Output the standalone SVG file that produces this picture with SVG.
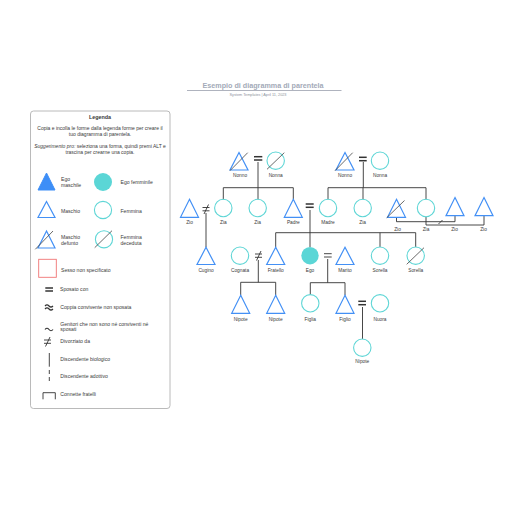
<svg xmlns="http://www.w3.org/2000/svg" width="516" height="516" viewBox="0 0 516 516">
<style>
text{font-family:"Liberation Sans",Arial,sans-serif;fill:#3a3a3a}
.lbl{font-size:4.8px;text-anchor:middle}
.leg{font-size:5.1px}
.legc{font-size:5px;text-anchor:middle}
.m{fill:none;stroke:#4390f5;stroke-width:1.2;stroke-linejoin:miter}
.f{fill:none;stroke:#5fd6d6;stroke-width:1.1}
.d{stroke:#444;stroke-width:0.8}
.c{fill:none;stroke:#333;stroke-width:0.9}
.eq{stroke:#333;stroke-width:1.5}
</style>
<rect width="516" height="516" fill="#fff"/>
<g id="title">
<text x="263" y="88" style="font-size:7.2px;font-weight:bold;fill:#a3aab8;text-anchor:middle">Esempio di diagramma di parentela</text>
<line x1="187" y1="90.5" x2="341.5" y2="90.5" stroke="#9aa0ad" stroke-width="0.8"/>
<text x="258" y="96" style="font-size:3.8px;fill:#8d939e;text-anchor:middle">System Templates  |  April 11, 2023</text>
</g>
<g id="legend">
<rect x="30.5" y="111" width="139.5" height="297.5" rx="3" fill="#fff" stroke="#a8a8a8" stroke-width="0.8"/>
<text x="100" y="118.5" style="font-size:5.4px;font-weight:bold;text-anchor:middle">Legenda</text>
<text x="100" y="130" class="legc">Copia e incolla le forme dalla legenda forme per creare il</text>
<text x="100" y="136" class="legc">tuo diagramma di parentela.</text>
<text x="100" y="148" class="legc"><tspan font-style="italic">Suggerimento pro:</tspan> seleziona una forma, quindi premi ALT e</text>
<text x="100" y="154" class="legc">trascina per crearne una copia.</text>
<path d="M46.5,173 L55,190 L38,190 Z" fill="#3d8ef7" stroke="#3d8ef7" stroke-width="1"/>
<text x="61" y="180.5" class="leg">Ego</text><text x="61" y="187" class="leg">maschile</text>
<circle cx="103" cy="182" r="9" fill="#5bd6d6"/>
<text x="120.5" y="183.5" class="leg">Ego femminile</text>
<path d="M46.5,201.5 L55,217.5 L38,217.5 Z" class="m"/>
<text x="61" y="212.5" class="leg">Maschio</text>
<circle cx="103" cy="210" r="8.6" class="f"/>
<text x="120.5" y="212.5" class="leg">Femmina</text>
<path d="M46.5,231 L55,248 L38,248 Z" class="m"/>
<line x1="35.3" y1="249.3" x2="53" y2="231" class="d"/>
<text x="61" y="238.5" class="leg">Maschio</text><text x="61" y="245" class="leg">defunto</text>
<circle cx="104" cy="239.3" r="8.6" class="f"/>
<line x1="94.7" y1="247.7" x2="112" y2="230.7" class="d"/>
<text x="120.5" y="238.5" class="leg">Femmina</text><text x="120.5" y="245" class="leg">deceduta</text>
<rect x="38.7" y="259.3" width="17.6" height="18" fill="none" stroke="#f07474" stroke-width="0.9"/>
<text x="61" y="271.5" class="leg">Sesso non specificato</text>
<line x1="45.3" y1="288" x2="53" y2="288" class="eq"/><line x1="45.3" y1="291" x2="53" y2="291" class="eq"/>
<text x="60" y="291" class="leg">Sposato con</text>
<path d="M45,306 q2,-2 4,0 t4,0 M45,309 q2,-2 4,0 t4,0" fill="none" stroke="#333" stroke-width="1.2"/>
<text x="60.3" y="309" class="leg">Coppia convivente non sposata</text>
<path d="M45,329.5 q2,-2.5 4,0 t4,0" fill="none" stroke="#333" stroke-width="1.2"/>
<text x="60.3" y="325.5" class="leg">Genitori che non sono né conviventi né</text>
<text x="60.3" y="331.3" class="leg">sposati</text>
<line x1="44" y1="340" x2="51" y2="340" class="c"/><line x1="44" y1="343.3" x2="51" y2="343.3" class="c"/>
<line x1="45.5" y1="346.5" x2="50" y2="337" class="c"/>
<text x="60.3" y="343.3" class="leg">Divorziato da</text>
<line x1="49.3" y1="353" x2="49.3" y2="366.7" class="c"/>
<text x="60.3" y="361" class="leg">Discendente biologico</text>
<line x1="49.3" y1="370" x2="49.3" y2="382.7" class="c" stroke-dasharray="4,3"/>
<text x="60.3" y="378" class="leg">Discendente adottivo</text>
<path d="M43,399.3 V392.7 H55.3 V399.3" class="c"/>
<text x="60.3" y="396.3" class="leg">Connette fratelli</text>
</g>
<g id="connectors">
<line x1="254" y1="156.7" x2="262.3" y2="156.7" class="eq"/><line x1="254" y1="160" x2="262.3" y2="160" class="eq"/>
<line x1="359" y1="157.3" x2="366.7" y2="157.3" class="eq"/><line x1="359" y1="160.7" x2="366.7" y2="160.7" class="eq"/>
<line x1="305.7" y1="204" x2="313.7" y2="204" class="eq"/><line x1="305.7" y1="207.3" x2="313.7" y2="207.3" class="eq"/>
<line x1="324" y1="253.7" x2="331.7" y2="253.7" class="c"/><line x1="324" y1="257" x2="331.7" y2="257" class="c"/>
<line x1="358.3" y1="301.3" x2="366" y2="301.3" class="eq"/><line x1="358.3" y1="304.7" x2="366" y2="304.7" class="eq"/>
<line x1="202.5" y1="207.5" x2="209.5" y2="207.5" class="c"/><line x1="202.5" y1="210.8" x2="209.5" y2="210.8" class="c"/>
<line x1="204" y1="214" x2="208.5" y2="204.5" class="c"/>
<line x1="255" y1="254" x2="262" y2="254" class="c"/><line x1="255" y1="257.3" x2="262" y2="257.3" class="c"/>
<line x1="256.5" y1="260.5" x2="261" y2="251" class="c"/>
<path d="M258,162 V187.7 M223.3,199.3 V187.7 H293.3 V199.3 M258,187.7 V199.3" class="c"/>
<path d="M363.3,162 V187.7 M328,199.3 V187.7 H426 V199.3 M363,187.7 V199.3" class="c"/>
<path d="M206,213 V247.3" class="c"/>
<path d="M310,210 V247" class="c"/>
<path d="M275.7,247.3 V232.7 H415.7 V247 M380,232.7 V247" class="c"/>
<path d="M396.5,217.3 V221.7 H455 V215.7" class="c"/>
<path d="M426,216.7 V225 H484 V215.7" class="c"/>
<line x1="438.5" y1="224" x2="442.5" y2="220" class="c" stroke-width="0.7"/>
<path d="M258.3,260 V282.3 M240.7,295.3 V282.3 H275.7 V295.3" class="c"/>
<path d="M327.7,259 V282.7 M310.3,294.6 V282.7 H345 V295.3" class="c"/>
<path d="M362.5,307 V339" class="c"/>
</g>
<g id="nonno-p"><path d="M239,152.5 L248,170 L230,170 Z" class="m"/><line x1="230" y1="170.7" x2="247.7" y2="152.7" class="d"/><text x="240" y="177" class="lbl">Nonno</text></g>
<g id="nonna-p"><circle cx="275.7" cy="160.7" r="8.7" class="f"/><line x1="267" y1="169.3" x2="284.3" y2="152.7" class="d"/><text x="275.7" y="177" class="lbl">Nonna</text></g>
<g id="nonno-m"><path d="M345,152.5 L354,170 L336,170 Z" class="m"/><line x1="335" y1="170.7" x2="352.7" y2="152.7" class="d"/><text x="345" y="177" class="lbl">Nonno</text></g>
<g id="nonna-m"><circle cx="380" cy="160.7" r="8.7" class="f"/><text x="380" y="177" class="lbl">Nonna</text></g>
<g id="zio1"><path d="M189.5,199.3 L198.5,217.3 L180.5,217.3 Z" class="m"/><text x="189.5" y="224" class="lbl">Zio</text></g>
<g id="zia1"><circle cx="223.3" cy="208" r="8.7" class="f"/><text x="223.3" y="224" class="lbl">Zia</text></g>
<g id="zia2"><circle cx="257.7" cy="208" r="8.7" class="f"/><text x="257.7" y="224" class="lbl">Zia</text></g>
<g id="padre"><path d="M293.3,199.3 L302.3,217.3 L284.3,217.3 Z" class="m"/><text x="293.3" y="224" class="lbl">Padre</text></g>
<g id="madre"><circle cx="328" cy="208" r="8.7" class="f"/><text x="328" y="224" class="lbl">Madre</text></g>
<g id="zia3"><circle cx="362.7" cy="208" r="8.7" class="f"/><text x="362.7" y="224" class="lbl">Zia</text></g>
<g id="zio2"><path d="M396.5,199.3 L405.5,217.3 L387.5,217.3 Z" class="m"/><line x1="386.7" y1="217.8" x2="404.5" y2="200.5" class="d"/><text x="397.5" y="231.3" class="lbl">Zio</text></g>
<g id="zia4"><circle cx="426" cy="208" r="8.7" class="f"/><text x="426" y="231.3" class="lbl">Zia</text></g>
<g id="zio3"><path d="M455,197.5 L464,215.7 L446,215.7 Z" class="m"/><text x="454.5" y="231.3" class="lbl">Zio</text></g>
<g id="zio4"><path d="M484,197.5 L493,215.7 L475,215.7 Z" class="m"/><text x="483.5" y="231.3" class="lbl">Zio</text></g>
<g id="cugino"><path d="M206,247.3 L215,264.5 L197,264.5 Z" class="m"/><text x="206" y="272" class="lbl">Cugino</text></g>
<g id="cognata"><circle cx="240" cy="255.7" r="8.7" class="f"/><text x="240" y="272" class="lbl">Cognata</text></g>
<g id="fratello"><path d="M275.7,247.3 L284.7,264.5 L266.7,264.5 Z" class="m"/><text x="275.7" y="272" class="lbl">Fratello</text></g>
<g id="ego"><circle cx="310" cy="255.7" r="8.7" fill="#5bd6d6"/><text x="310" y="272" class="lbl">Ego</text></g>
<g id="marito"><path d="M345,247.3 L354,264.5 L336,264.5 Z" class="m"/><text x="345" y="272" class="lbl">Marito</text></g>
<g id="sorella1"><circle cx="380" cy="255.7" r="8.7" class="f"/><text x="380" y="272" class="lbl">Sorella</text></g>
<g id="sorella2"><circle cx="415.7" cy="255.7" r="8.7" class="f"/><line x1="406.7" y1="264.3" x2="424" y2="247.7" class="d"/><text x="415.7" y="272" class="lbl">Sorella</text></g>
<g id="nipote1"><path d="M240.7,295.3 L249.7,313.3 L231.7,313.3 Z" class="m"/><text x="240.7" y="320.5" class="lbl">Nipote</text></g>
<g id="nipote2"><path d="M275.7,295.3 L284.7,313.3 L266.7,313.3 Z" class="m"/><text x="275.7" y="320.5" class="lbl">Nipote</text></g>
<g id="figlia"><circle cx="310.3" cy="303.3" r="8.7" class="f"/><text x="310.3" y="320.5" class="lbl">Figlia</text></g>
<g id="figlio"><path d="M345,295.3 L354,313.3 L336,313.3 Z" class="m"/><text x="345" y="320.5" class="lbl">Figlio</text></g>
<g id="nuora"><circle cx="380" cy="303.3" r="8.7" class="f"/><text x="380" y="320.5" class="lbl">Nuora</text></g>
<g id="nipote3"><circle cx="362.3" cy="347.7" r="8.7" class="f"/><text x="362.3" y="363.3" class="lbl">Nipote</text></g>
</svg>
